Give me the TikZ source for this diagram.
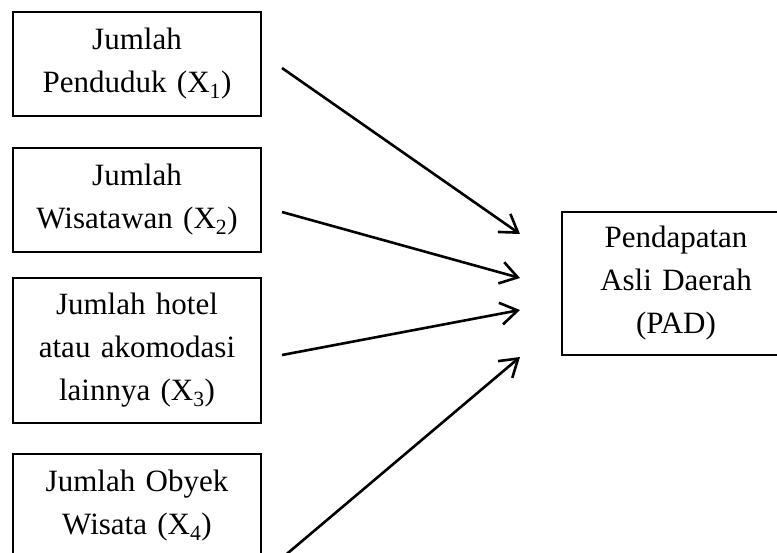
\documentclass[tikz,border=0pt]{standalone}
\usepackage{fontspec}
\setmainfont{Liberation Serif}
\usetikzlibrary{arrows.meta, positioning}

\begin{document}
\begin{tikzpicture}[x=1pt, y=-1pt,
    var node/.style={draw, line width=2.8pt, inner sep=0pt, align=center, text width=240pt, minimum width=248pt, font=\fontsize{31}{43}\selectfont},
    path arrow/.style={line width=2.6pt, -{Straight Barb[length=17pt, width=22pt]}}]
    \useasboundingbox (0,0) rectangle (777,552);

    \node[var node, minimum height=104pt] (penduduk) at (137,64) {Jumlah\\ Penduduk (X\textsubscript{1})};
    \node[var node, minimum height=104pt] (wisatawan) at (137,200) {Jumlah\\ Wisatawan (X\textsubscript{2})};
    \node[var node, minimum height=145pt] (hotel) at (137,350.5) {Jumlah hotel\\ atau akomodasi\\ lainnya (X\textsubscript{3})};
    \node[var node, minimum height=104pt] (obyek) at (137,506) {Jumlah Obyek\\ Wisata (X\textsubscript{4})};
    \node[var node, text width=220pt, minimum width=228pt, minimum height=143pt] (pad) at (676,283.5) {Pendapatan\\ Asli Daerah\\ (PAD)};

    \coordinate (out1) at (282,68);
    \coordinate (out2) at (282,212);
    \coordinate (out3) at (282,355);
    \coordinate (out4) at (282,558);
    \coordinate (in1) at (520,234);
    \coordinate (in2) at (520,278);
    \coordinate (in3) at (520,310);
    \coordinate (in4) at (520,357);

    \draw[path arrow] (out1) -- (in1);
    \draw[path arrow] (out2) -- (in2);
    \draw[path arrow] (out3) -- (in3);
    \draw[path arrow] (out4) -- (in4);
\end{tikzpicture}
\end{document}
